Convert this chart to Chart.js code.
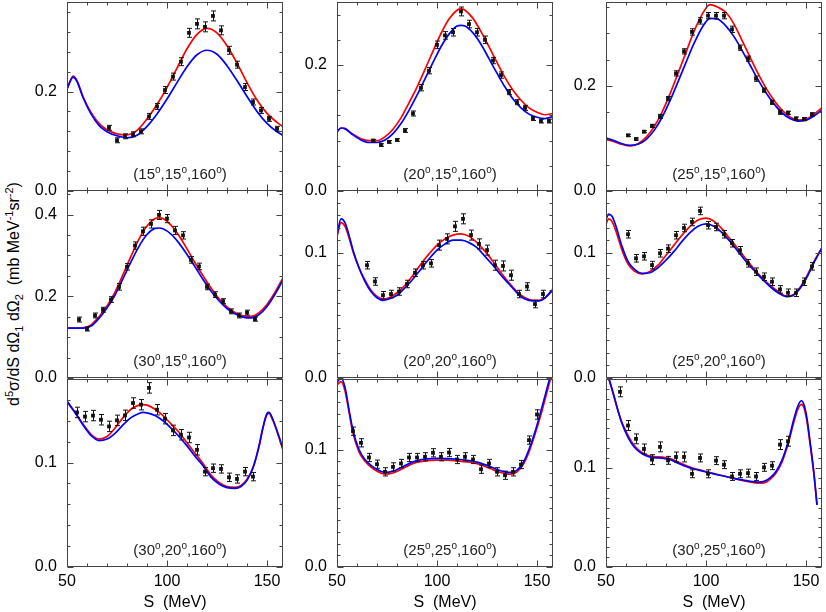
<!DOCTYPE html>
<html><head><meta charset="utf-8">
<script src="https://cdn.jsdelivr.net/npm/chart.js@4.4.1/dist/chart.umd.min.js"></script>
<style>
html,body{margin:0;padding:0;background:#fff;}
#wrap{position:relative;width:826px;height:612px;overflow:hidden;background:#fff;}
canvas{position:absolute;}
#ytitle{position:absolute;left:14px;top:294px;transform:translate(-50%,-50%) rotate(-90deg);white-space:nowrap;font:16px 'Liberation Sans',Arial,sans-serif;color:#000;line-height:18px;}
#ytitle sup,#ytitle sub{font-size:11px;line-height:0;}
</style>
</head><body>
<div id="wrap"><div id="ytitle">d<sup>5</sup>σ/dS dΩ<sub>1</sub> dΩ<sub>2</sub>&nbsp;&nbsp;(mb MeV<sup>-1</sup>sr<sup>-2</sup>)</div></div>
<script>
// ---------- panel labels (angles) ----------
const panelAngles = [[15,15,160],[20,15,160],[25,15,160],[30,15,160],[20,20,160],[25,20,160],[30,20,160],[25,25,160],[30,25,160]];
// ---------- axis ranges ----------
const yMax   = [0.38,0.30,0.36,0.46,0.15,0.15,0.18,0.16,0.19];
const yMajor = [0.2,0.2,0.2,0.2,0.1,0.1,0.1,0.1,0.1];
const yMinor = [0.04,0.04,0.05,0.05,0.01,0.01,0.02,0.01,0.01];
const xMin = 50, xMax = 158;
const xMajorTicks = [50,100,150];
const xMinorTicks = [60,70,80,90,110,120,130,140];

// ---------- panel 1 (15,15,160) ----------
const p1S   = [71,75,79,83,87,91,95,99,103,107,111,115,119,123,127,131,135,139,143,147,151,155];
const p1Val = [0.127,0.102,0.110,0.114,0.120,0.150,0.170,0.203,0.230,0.260,0.318,0.336,0.330,0.352,0.323,0.283,0.254,0.209,0.179,0.162,0.145,0.125];
const p1Err = [0.005,0.005,0.005,0.005,0.005,0.006,0.006,0.007,0.007,0.008,0.009,0.010,0.010,0.010,0.009,0.008,0.007,0.007,0.006,0.006,0.005,0.005];
const p1CurveS = [50,52,53,55,58,62,66,70,75,80,85,90,95,100,105,110,115,120,125,130,135,140,145,150,155,158];
const p1Red  = [0.205,0.225,0.231,0.222,0.190,0.158,0.136,0.123,0.115,0.113,0.122,0.145,0.174,0.208,0.247,0.286,0.315,0.327,0.318,0.292,0.257,0.218,0.183,0.156,0.138,0.129];
const p1Blue = [0.205,0.224,0.229,0.220,0.188,0.155,0.132,0.119,0.111,0.107,0.112,0.130,0.155,0.185,0.218,0.250,0.274,0.283,0.275,0.252,0.222,0.190,0.160,0.136,0.119,0.112];

// ---------- panel 2 (20,15,160) ----------
const p2S   = [68,72,76,80,84,88,92,96,100,104,108,112,116,120,124,128,132,136,140,144,148,152,156];
const p2Val = [0.080,0.073,0.078,0.081,0.096,0.123,0.164,0.191,0.232,0.247,0.252,0.285,0.265,0.252,0.240,0.207,0.184,0.157,0.141,0.132,0.115,0.111,0.111];
const p2Err = [0.002,0.002,0.002,0.002,0.003,0.004,0.005,0.005,0.006,0.006,0.006,0.007,0.006,0.006,0.006,0.005,0.005,0.004,0.004,0.004,0.003,0.003,0.003];
const p2CurveS = [50,52,54,58,62,66,70,74,78,82,86,90,94,98,102,106,110,112,114,118,122,126,130,134,138,142,146,150,154,158];
const p2Red  = [0.094,0.100,0.099,0.090,0.083,0.080,0.080,0.086,0.098,0.116,0.140,0.165,0.193,0.222,0.250,0.273,0.287,0.289,0.287,0.274,0.253,0.229,0.204,0.180,0.160,0.144,0.132,0.125,0.121,0.123];
const p2Blue = [0.094,0.100,0.099,0.089,0.081,0.077,0.077,0.081,0.091,0.107,0.128,0.152,0.178,0.204,0.229,0.249,0.262,0.263,0.262,0.251,0.233,0.210,0.187,0.165,0.146,0.132,0.122,0.117,0.115,0.118];

// ---------- panel 3 (25,15,160) ----------
const p3S   = [61,65,69,73,77,81,85,89,93,97,101,105,109,113,117,121,125,129,133,137,141,145,149,153];
const p3Val = [0.106,0.099,0.113,0.124,0.142,0.176,0.224,0.266,0.303,0.324,0.334,0.334,0.334,0.308,0.273,0.252,0.214,0.192,0.169,0.150,0.149,0.138,0.137,0.146];
const p3Err = [0.002,0.002,0.002,0.003,0.004,0.004,0.005,0.005,0.006,0.006,0.006,0.006,0.006,0.006,0.005,0.005,0.005,0.004,0.004,0.004,0.003,0.003,0.003,0.003];
const p3CurveS = [50,54,58,62,66,70,74,78,82,86,90,94,98,102,106,110,114,118,122,126,130,134,138,142,146,150,154,158];
const p3Red  = [0.098,0.094,0.089,0.086,0.090,0.102,0.122,0.150,0.185,0.224,0.264,0.304,0.336,0.355,0.350,0.340,0.318,0.287,0.255,0.224,0.196,0.173,0.154,0.141,0.135,0.137,0.146,0.159];
const p3Blue = [0.101,0.096,0.090,0.087,0.089,0.098,0.115,0.140,0.172,0.208,0.245,0.281,0.311,0.329,0.327,0.314,0.294,0.268,0.240,0.212,0.187,0.166,0.149,0.138,0.133,0.135,0.143,0.154];

// ---------- panel 4 (30,15,160) ----------
const p4S   = [56,60,64,68,72,76,80,84,88,92,96,100,104,108,112,116,120,124,128,132,136,140,144];
const p4Val = [0.143,0.120,0.153,0.167,0.192,0.223,0.272,0.324,0.359,0.377,0.399,0.390,0.361,0.349,0.289,0.273,0.223,0.204,0.188,0.163,0.153,0.160,0.144];
const p4Err = [0.006,0.005,0.006,0.006,0.007,0.008,0.008,0.009,0.010,0.010,0.011,0.010,0.010,0.009,0.008,0.008,0.007,0.007,0.006,0.006,0.006,0.006,0.005];
const p4CurveS = [50,54,58,62,66,70,74,78,82,86,90,94,96,98,102,106,110,114,118,122,126,130,134,138,142,146,150,154,158];
const p4Red  = [0.122,0.122,0.123,0.130,0.150,0.176,0.210,0.253,0.298,0.340,0.372,0.390,0.392,0.390,0.374,0.348,0.316,0.282,0.250,0.220,0.194,0.174,0.160,0.152,0.151,0.160,0.180,0.210,0.245];
const p4Blue = [0.122,0.122,0.122,0.127,0.146,0.171,0.203,0.243,0.284,0.322,0.351,0.366,0.367,0.365,0.352,0.330,0.302,0.272,0.241,0.213,0.189,0.170,0.157,0.149,0.147,0.155,0.175,0.205,0.240];

// ---------- panel 5 (20,20,160) ----------
const p5S   = [65,69,73,77,81,85,89,93,97,101,105,109,113,117,121,125,129,133,137,141,145,149,153];
const p5Val = [0.090,0.077,0.066,0.067,0.069,0.075,0.084,0.090,0.0915,0.106,0.111,0.121,0.127,0.114,0.107,0.102,0.090,0.0894,0.082,0.067,0.073,0.059,0.067];
const p5Err = [0.003,0.003,0.003,0.003,0.003,0.003,0.003,0.003,0.003,0.004,0.004,0.004,0.004,0.004,0.004,0.004,0.004,0.004,0.004,0.003,0.003,0.003,0.003];
const p5CurveS = [50,52,54,56,58,61,64,67,70,73,76,80,84,88,92,96,100,104,108,112,116,120,124,128,132,136,140,144,148,151,154,158];
const p5Red  = [0.113,0.124,0.121,0.112,0.101,0.088,0.078,0.070,0.065,0.063,0.064,0.068,0.074,0.082,0.091,0.099,0.106,0.111,0.114,0.115,0.113,0.108,0.101,0.093,0.084,0.076,0.069,0.064,0.062,0.062,0.064,0.070];
const p5Blue = [0.114,0.127,0.124,0.114,0.102,0.088,0.077,0.069,0.064,0.062,0.063,0.066,0.072,0.079,0.087,0.095,0.102,0.107,0.110,0.110,0.108,0.104,0.097,0.090,0.082,0.075,0.068,0.063,0.0615,0.0615,0.064,0.071];

// ---------- panel 6 (25,20,160) ----------
const p6S   = [61,65,69,73,77,81,85,89,93,97,101,105,109,113,117,121,125,129,133,137,141,145,149,153];
const p6Val = [0.1147,0.0955,0.0971,0.0901,0.0995,0.1032,0.1139,0.1197,0.1245,0.1333,0.1219,0.1205,0.1147,0.1075,0.1019,0.0915,0.0848,0.0808,0.0768,0.0707,0.0680,0.0680,0.0768,0.0891];
const p6Err = [0.003,0.003,0.003,0.003,0.003,0.003,0.003,0.003,0.003,0.003,0.003,0.003,0.003,0.003,0.003,0.003,0.003,0.003,0.003,0.003,0.003,0.003,0.003,0.003];
const p6CurveS = [50,51.3,53,55,58,61,64,68,72,76,80,84,88,92,96,100,104,108,112,116,120,124,128,132,136,140,143,146,150,154,158];
const p6Red  = [0.1227,0.127,0.125,0.117,0.102,0.091,0.0855,0.083,0.085,0.090,0.098,0.106,0.114,0.121,0.126,0.1275,0.125,0.119,0.111,0.103,0.095,0.087,0.080,0.074,0.069,0.0655,0.066,0.070,0.080,0.093,0.104];
const p6Blue = [0.1267,0.1307,0.129,0.121,0.105,0.093,0.087,0.0835,0.084,0.088,0.094,0.101,0.109,0.116,0.121,0.123,0.121,0.116,0.109,0.101,0.093,0.086,0.079,0.073,0.068,0.065,0.0655,0.0695,0.079,0.092,0.104];

// ---------- panel 7 (30,20,160) ----------
const p7S   = [55,59,63,67,71,75,79,83,87,91,95,99,103,107,111,115,119,123,127,131,135,139,143];
const p7Val = [0.148,0.144,0.145,0.141,0.1346,0.1404,0.1452,0.157,0.1554,0.1715,0.1506,0.142,0.1308,0.1266,0.124,0.1122,0.0913,0.0946,0.0939,0.0859,0.0843,0.0913,0.0865];
const p7Err = [0.005,0.005,0.005,0.005,0.005,0.005,0.005,0.005,0.005,0.005,0.005,0.005,0.005,0.005,0.005,0.005,0.004,0.004,0.004,0.004,0.004,0.004,0.004];
const p7CurveS = [50,54,58,62,66,70,74,78,82,86,88,90,94,98,102,106,110,114,118,122,126,130,134,137,140,143,146,148,150,151,153,156,158];
const p7Red  = [0.158,0.148,0.137,0.127,0.1225,0.125,0.133,0.143,0.151,0.155,0.1555,0.155,0.151,0.145,0.137,0.129,0.119,0.109,0.099,0.088,0.081,0.077,0.0763,0.078,0.084,0.095,0.115,0.133,0.146,0.147,0.140,0.124,0.112];
const p7Blue = [0.159,0.148,0.136,0.126,0.121,0.1225,0.128,0.136,0.143,0.147,0.148,0.1475,0.145,0.140,0.133,0.125,0.116,0.106,0.097,0.086,0.0795,0.076,0.0753,0.077,0.083,0.095,0.116,0.134,0.147,0.148,0.141,0.125,0.113];

// ---------- panel 8 (25,25,160) ----------
const p8S   = [58,62,66,70,74,78,82,86,90,94,98,102,106,110,114,118,122,126,130,134,138,142,146,150];
const p8Val = [0.1156,0.1057,0.0932,0.0875,0.0810,0.0852,0.0881,0.0932,0.0932,0.0938,0.0972,0.0938,0.0974,0.0915,0.0938,0.0915,0.0832,0.0881,0.0810,0.0781,0.0810,0.0872,0.1080,0.1298];
const p8Err = [0.0035,0.0035,0.0035,0.0035,0.0035,0.0035,0.0035,0.0035,0.0035,0.0035,0.0035,0.0035,0.0035,0.0035,0.0035,0.0035,0.0035,0.0035,0.0035,0.0035,0.0035,0.0035,0.0035,0.004];
const p8CurveS = [50,52,54,56,58,61,64,67,70,74,78,82,86,90,95,100,105,110,115,120,125,130,134,137,140,143,146,149,152,155,158];
const p8Red  = [0.155,0.1577,0.150,0.132,0.114,0.098,0.090,0.085,0.0815,0.079,0.080,0.083,0.0865,0.0892,0.0905,0.091,0.0909,0.0903,0.0895,0.088,0.085,0.0815,0.0795,0.079,0.081,0.087,0.098,0.113,0.130,0.149,0.168];
const p8Blue = [0.157,0.161,0.153,0.134,0.116,0.100,0.0915,0.0865,0.083,0.0805,0.0815,0.0845,0.088,0.0905,0.092,0.0925,0.0923,0.0917,0.0908,0.0893,0.0865,0.083,0.081,0.0805,0.0825,0.0885,0.100,0.115,0.133,0.152,0.171];

// ---------- panel 9 (30,25,160) ----------
const p9S   = [57,61,65,69,73,77,81,85,89,93,97,101,105,109,113,117,121,125,129,133,137,141];
const p9Val = [0.177,0.143,0.1295,0.1193,0.1085,0.1214,0.1078,0.1112,0.1112,0.0942,0.1102,0.0942,0.1075,0.1034,0.0915,0.0942,0.0949,0.0915,0.1007,0.1024,0.1237,0.1271];
const p9Err = [0.005,0.005,0.005,0.005,0.005,0.005,0.004,0.005,0.005,0.004,0.004,0.004,0.004,0.004,0.004,0.004,0.004,0.004,0.004,0.004,0.005,0.005];
const p9CurveS = [50,52,54,56,58,61,64,67,70,74,78,82,86,90,94,98,102,106,110,114,118,122,126,129,132,135,138,141,144,146,147.7,149,150.5,152,154,155.5];
const p9Red  = [0.198,0.186,0.172,0.158,0.146,0.133,0.123,0.117,0.1135,0.1115,0.111,0.1095,0.106,0.1025,0.0995,0.0975,0.0955,0.0935,0.0915,0.0895,0.0875,0.086,0.0848,0.085,0.0885,0.095,0.106,0.124,0.147,0.160,0.1644,0.161,0.147,0.125,0.093,0.063];
const p9Blue = [0.199,0.187,0.173,0.158,0.145,0.131,0.1215,0.116,0.1125,0.1105,0.110,0.1085,0.105,0.1015,0.099,0.097,0.095,0.093,0.0915,0.0895,0.088,0.0865,0.0858,0.0865,0.090,0.0965,0.108,0.126,0.150,0.163,0.168,0.164,0.150,0.127,0.094,0.0627];

const panels = [
  {S:p1S,V:p1Val,E:p1Err,CS:p1CurveS,R:p1Red,B:p1Blue},
  {S:p2S,V:p2Val,E:p2Err,CS:p2CurveS,R:p2Red,B:p2Blue},
  {S:p3S,V:p3Val,E:p3Err,CS:p3CurveS,R:p3Red,B:p3Blue},
  {S:p4S,V:p4Val,E:p4Err,CS:p4CurveS,R:p4Red,B:p4Blue},
  {S:p5S,V:p5Val,E:p5Err,CS:p5CurveS,R:p5Red,B:p5Blue},
  {S:p6S,V:p6Val,E:p6Err,CS:p6CurveS,R:p6Red,B:p6Blue},
  {S:p7S,V:p7Val,E:p7Err,CS:p7CurveS,R:p7Red,B:p7Blue},
  {S:p8S,V:p8Val,E:p8Err,CS:p8CurveS,R:p8Red,B:p8Blue},
  {S:p9S,V:p9Val,E:p9Err,CS:p9CurveS,R:p9Red,B:p9Blue}
];

// ---------- layout (pixels) ----------
const colLeft = [67,337,606], colRight = [283,553,822];
const rowTop = [2,190,379], rowBottom = [191,378,567];
const FONT = "'Liberation Sans', Arial, sans-serif";
const PADL = 70, PADT = 20, PADR = 20, PADB = 50, YW = 50, XH = 45;

function panelPlugin(i){
  const P = panels[i];
  return {
    id:'panel'+i,
    afterDatasetsDraw(chart){
      const ctx = chart.ctx, xs = chart.scales.x, ys = chart.scales.y, a = chart.chartArea;
      ctx.save();
      // error bars
      ctx.strokeStyle = '#111'; ctx.lineWidth = 1;
      ctx.beginPath();
      P.S.forEach((s,k)=>{
        const x = Math.round(xs.getPixelForValue(s)) + 0.5;
        const y1 = ys.getPixelForValue(P.V[k]-P.E[k]);
        const y2 = ys.getPixelForValue(P.V[k]+P.E[k]);
        ctx.moveTo(x,y1); ctx.lineTo(x,y2);
        ctx.moveTo(x-2.5,y1); ctx.lineTo(x+2.5,y1);
        ctx.moveTo(x-2.5,y2); ctx.lineTo(x+2.5,y2);
      });
      ctx.stroke();
      // frame
      const L = Math.round(a.left)+0.5, R = Math.round(a.right)-0.5, T = Math.round(a.top)+0.5, B = Math.round(a.bottom)-0.5;
      ctx.strokeStyle = '#444'; ctx.lineWidth = 1;
      ctx.strokeRect(L, T, R-L, B-T);
      // x ticks (inward, top and bottom)
      ctx.beginPath();
      const xt = (v,len)=>{ const x = Math.round(xs.getPixelForValue(v))+0.5; ctx.moveTo(x,B); ctx.lineTo(x,B-len); ctx.moveTo(x,T); ctx.lineTo(x,T+len); };
      xMajorTicks.forEach(v=>xt(v,6));
      xMinorTicks.forEach(v=>xt(v,3));
      // y ticks (inward, left and right)
      const n = Math.floor(yMax[i]/yMinor[i] + 1e-6);
      for(let k=0;k<=n;k++){
        const v = k*yMinor[i];
        const isMaj = Math.abs(v/yMajor[i] - Math.round(v/yMajor[i])) < 1e-6;
        const len = isMaj ? 6 : 3;
        const y = Math.round(ys.getPixelForValue(v))+0.5;
        ctx.moveTo(L,y); ctx.lineTo(L+len,y);
        ctx.moveTo(R,y); ctx.lineTo(R-len,y);
      }
      ctx.stroke();
      // panel label "(a°,b°,c°)"
      const ang = panelAngles[i];
      const parts = [];
      parts.push(['(',0]);
      ang.forEach((v,k)=>{ parts.push([String(v),0]); parts.push(['o',1]); if(k<2) parts.push([',',0]); });
      parts.push([')',0]);
      const fMain = '15px '+FONT, fSup = '10px '+FONT;
      let w = 0;
      parts.forEach(p=>{ ctx.font = p[1]?fSup:fMain; w += ctx.measureText(p[0]).width; });
      let x = (a.left+a.right)/2 + 5 - w/2;
      const yb = a.bottom - 12;
      ctx.fillStyle = '#222'; ctx.textBaseline = 'alphabetic'; ctx.textAlign = 'left';
      parts.forEach(p=>{ ctx.font = p[1]?fSup:fMain; ctx.fillText(p[0], x, p[1]? yb-6 : yb); x += ctx.measureText(p[0]).width; });
      ctx.restore();
    }
  };
}

function makePanel(i){
  const c = i%3, r = Math.floor(i/3);
  const L = colLeft[c], R = colRight[c], T = rowTop[r], B = rowBottom[r];
  const w = R - L + PADL + PADR, h = B - T + PADT + PADB;
  const cv = document.createElement('canvas');
  cv.width = w; cv.height = h;
  cv.style.left = (L-PADL)+'px'; cv.style.top = (T-PADT)+'px';
  cv.style.width = w+'px'; cv.style.height = h+'px';
  document.getElementById('wrap').appendChild(cv);
  const P = panels[i];
  const bottomRow = (r===2);
  new Chart(cv, {
    type:'line',
    data:{datasets:[
      {label:'red', data:P.CS.map((s,k)=>({x:s,y:P.R[k]})), borderColor:'#ff0000', borderWidth:1.7, pointRadius:0, cubicInterpolationMode:'monotone', fill:false, order:3},
      {label:'blue', data:P.CS.map((s,k)=>({x:s,y:P.B[k]})), borderColor:'#0000ff', borderWidth:1.7, pointRadius:0, cubicInterpolationMode:'monotone', fill:false, order:2},
      {label:'data', data:P.S.map((s,k)=>({x:s,y:P.V[k]})), showLine:false, pointStyle:'rect', pointRadius:2.7, pointBackgroundColor:'#111', pointBorderWidth:0, backgroundColor:'#111', borderColor:'#111', order:1}
    ]},
    options:{
      responsive:false, animation:false, devicePixelRatio:1,
      layout:{autoPadding:false, padding:{left:PADL-YW, top:PADT, right:PADR, bottom:PADB-XH}},
      plugins:{legend:{display:false}, tooltip:{enabled:false}},
      scales:{
        x:{type:'linear', min:xMin, max:xMax,
           afterFit(s){ s.height = XH; },
           grid:{display:false, drawTicks:false}, border:{display:false},
           ticks:{display:bottomRow, stepSize:50, includeBounds:false, padding:5, color:'#000', font:{family:FONT, size:16}},
           title:{display:bottomRow, text:'S  (MeV)', color:'#000', font:{family:FONT, size:16}, padding:{top:2, bottom:0}}},
        y:{type:'linear', min:0, max:yMax[i],
           afterFit(s){ s.width = YW; },
           grid:{display:false, drawTicks:false}, border:{display:false},
           ticks:{stepSize:yMajor[i], includeBounds:false, autoSkip:false, padding:10, color:'#000', font:{family:FONT, size:16},
                  callback:(v)=>Number(v).toFixed(1)}}
      }
    },
    plugins:[panelPlugin(i)]
  });
}
for(let i=0;i<9;i++) makePanel(i);
</script>
</body></html>
